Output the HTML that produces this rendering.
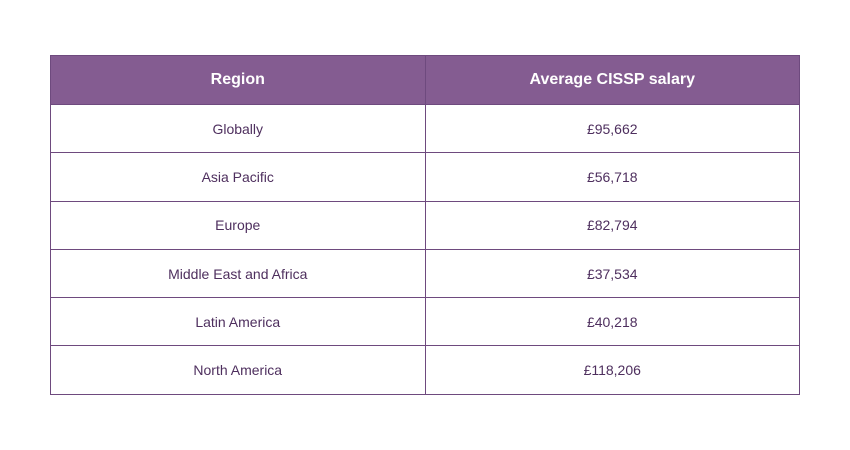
<!DOCTYPE html><html><head><style>
body{margin:0;width:850px;height:450px;background:#fff;font-family:"Liberation Sans",sans-serif;}
table{position:absolute;left:50px;top:55px;width:750px;border-collapse:collapse;}
td,th{border:1px solid #6e4a7e;text-align:center;width:50%;padding:0;}
th{background:#845c91;color:#fff;font-size:16px;font-weight:bold;height:48px;}
td{color:#4e2f5e;font-size:14px;height:47.3px;}
</style></head><body>
<table>
<tr><th>Region</th><th>Average CISSP salary</th></tr>
<tr><td>Globally</td><td>£95,662</td></tr>
<tr><td>Asia Pacific</td><td>£56,718</td></tr>
<tr><td>Europe</td><td>£82,794</td></tr>
<tr><td>Middle East and Africa</td><td>£37,534</td></tr>
<tr><td>Latin America</td><td>£40,218</td></tr>
<tr><td>North America</td><td>£118,206</td></tr>
</table>
</body></html>
